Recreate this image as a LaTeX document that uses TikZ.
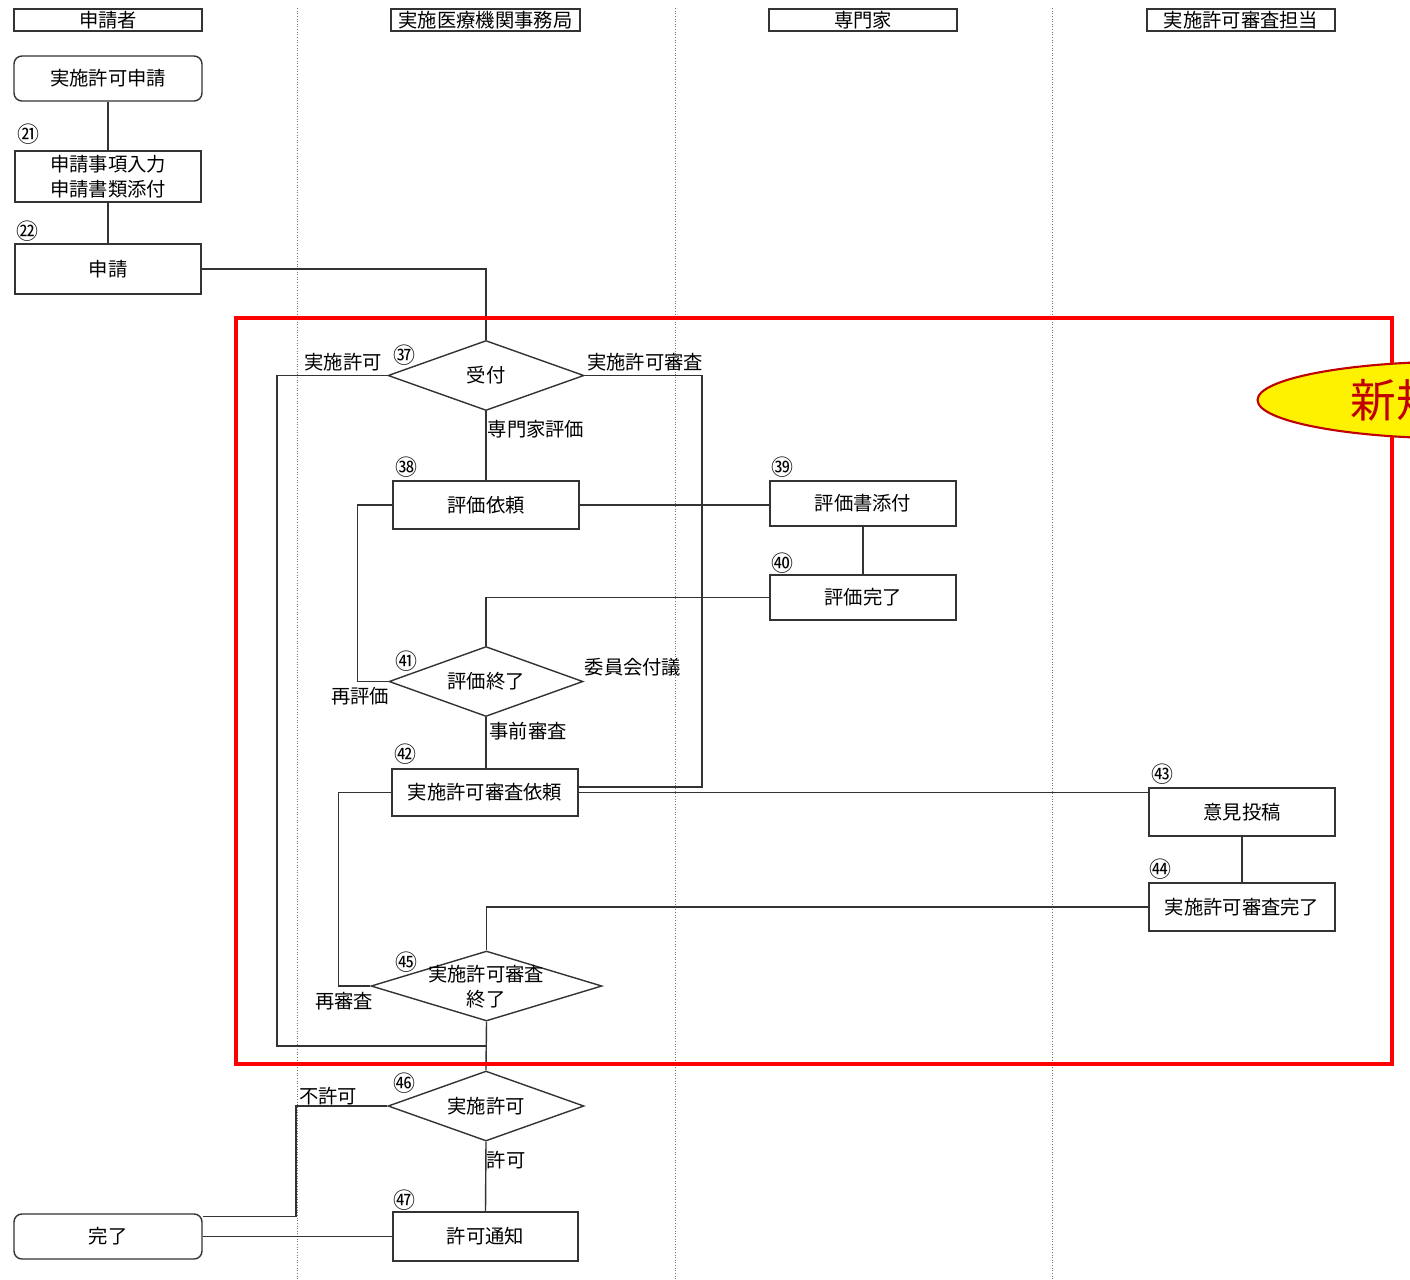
\documentclass[tikz,border=0pt]{standalone}
\usepackage{fontspec}
\setmainfont{Noto Sans CJK JP}
\usetikzlibrary{shapes.geometric,calc}
\definecolor{darkred}{RGB}{192,0,0}
\begin{document}
\begin{tikzpicture}[x=0.02cm,y=-0.02cm,
  conn/.style={draw=black!80,line width=0.8pt},
  lane/.style={draw=black!55,line width=0.5pt,densely dotted},
  txt/.style={font=\fontsize{11}{14}\selectfont,inner sep=0,align=center},
  num/.style={font=\fontsize{12.5}{14}\selectfont,inner sep=0},
  hdr/.style={txt,draw=black!80,line width=0.8pt,minimum width=3.76cm,minimum height=0.44cm},
  box/.style={txt,draw=black!80,line width=0.8pt,minimum width=3.72cm,minimum height=0.96cm},
  rbox/.style={box,rounded corners=4.5pt,minimum width=3.76cm,minimum height=0.9cm},
  dia/.style={draw=black!80,line width=0.8pt,diamond,inner sep=0,minimum width=3.92cm,minimum height=1.4cm}
]
\useasboundingbox (0,0) rectangle (1410,1279);
\clip (0,0) rectangle (1410,1279);
% lanes
\draw[lane] (297,8) -- (297,1279);
\draw[lane] (675,8) -- (675,1279);
\draw[lane] (1052,8) -- (1052,1279);
% headers
\node[hdr] (h1) at (108,20) {申請者};
\node[hdr,minimum width=3.78cm] (h2) at (485.5,20) {実施医療機関事務局};
\node[hdr] (h3) at (863,20) {専門家};
\node[hdr] (h4) at (1241,20) {実施許可審査担当};
% nodes
\node[rbox] (n1) at (108,78.5) {実施許可申請};
\node[box,minimum height=1.02cm] (n21) at (108,176.5) {申請事項入力\\申請書類添付};
\node[box,minimum height=1.0cm] (n22) at (108,269) {申請};
\node[dia] (d37) at (486,375.5) {};
\node[txt] (t37) at (d37) {受付};
\node[box] (n38) at (486,505) {評価依頼};
\node[box,minimum height=0.9cm] (n39) at (863,503.5) {評価書添付};
\node[box,minimum height=0.9cm] (n40) at (863,597.5) {評価完了};
\node[dia,minimum width=3.88cm] (d41) at (486,681.5) {};
\node[txt] (t41) at (d41) {評価終了};
\node[box,minimum height=0.94cm] (n42) at (485,792.5) {実施許可審査依頼};
\node[box] (n43) at (1242,812) {意見投稿};
\node[box] (n44) at (1242,907) {実施許可審査完了};
\node[dia,minimum width=4.62cm] (d45) at (486.5,986) {};
\node[txt,font=\fontsize{11}{14.2}\selectfont] (t45) at (486,987) {実施許可審査\\終了};
\node[dia] (d46) at (486,1106) {};
\node[txt] (t46) at (d46) {実施許可};
\node[box,minimum width=3.7cm,minimum height=0.98cm] (n47) at (485.5,1236.5) {許可通知};
\node[rbox] (done) at (108,1236.5) {完了};
% circled numbers
\node[num] (c21) at (28,134) {㉑};
\node[num] (c22) at (27,231) {㉒};
\node[num] (c37) at (404,355) {㊲};
\node[num] (c38) at (406,467) {㊳};
\node[num] (c39) at (782,467) {㊴};
\node[num] (c40) at (782,563) {㊵};
\node[num] (c41) at (406,661) {㊶};
\node[num] (c42) at (405,754) {㊷};
\node[num] (c43) at (1162,774) {㊸};
\node[num] (c44) at (1160,869) {㊹};
\node[num] (c45) at (406,962) {㊺};
\node[num] (c46) at (404,1083) {㊻};
\node[num] (c47) at (404,1200) {㊼};
% labels
\node[txt] (l1) at (343,362) {実施許可};
\node[txt] (l2) at (645,362) {実施許可審査};
\node[txt] (l3) at (536,429) {専門家評価};
\node[txt] (l4) at (633,667) {委員会付議};
\node[txt] (l5) at (360,696) {再評価};
\node[txt] (l6) at (528,731) {事前審査};
\node[txt] (l7) at (344,1001) {再審査};
\node[txt] (l8) at (328,1096) {不許可};
\node[txt] (l9) at (506,1160) {許可};
% coordinates
\coordinate (k1) at (277,375.5);
\coordinate (j1) at (486,1046);
\coordinate (k2) at (702,375.5);
\coordinate (k3) at (296,1106);
% connectors
\draw[conn] (n1.south) -- (n21.north);
\draw[conn] (n21.south) -- (n22.north);
\draw[conn] (n22.east) -| (d37.north);
\draw[conn] (d37.west) -- (k1) |- (j1);
\draw[conn] (d37.east) -- (k2) |- ($(n42.east)+(0,-5.5)$);
\draw[conn] (d37.south) -- (n38.north);
\draw[conn] (n38.east) -- (n38.east -| n39.west);
\draw[conn] (n39.south) -- (n40.north);
\draw[conn] (n40.west) -| (d41.north);
\draw[conn] (n38.west) -- ++(-35,0) |- (d41.west);
\draw[conn] (d41.south) -- (n42.north -| d41.south);
\draw[conn] (n42.east) -- (n42.east -| n43.west);
\draw[conn] (n42.west) -- ++(-53,0) |- (d45.west);
\draw[conn] (n43.south) -- (n44.north);
\draw[conn] (n44.west) -| (d45.north);
\draw[conn] (d45.south) -- (d46.north);
\draw[conn] (d46.west) -- (k3) |- ($(done.north east)+(0,3)$);
\draw[conn] (d46.south) -- (n47.north);
\draw[conn] (n47.west) -- (n47.west -| done.east);
% highlight frame
\draw[red,line width=2.3pt] (236,318) rectangle (1392,1064);
\node[draw=darkred,line width=1.2pt,fill=yellow,ellipse,minimum width=8.1cm,minimum height=1.54cm] (badge) at (1460,400) {};
\node[font=\fontsize{26}{30}\selectfont,text=darkred,anchor=west,inner sep=0] (badgetxt) at (1350,400) {新規};
\end{tikzpicture}
\end{document}
